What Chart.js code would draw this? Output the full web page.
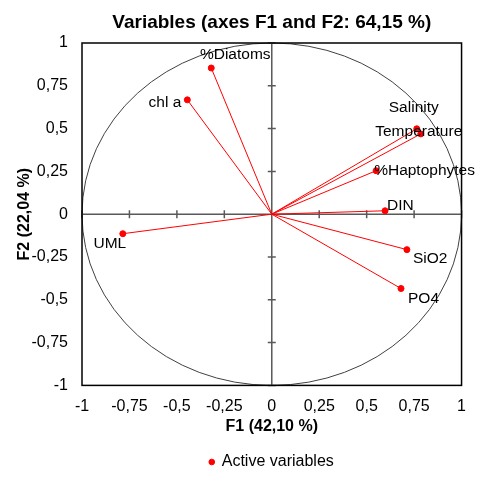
<!DOCTYPE html>
<html>
<head>
<meta charset="utf-8">
<script src="https://cdn.jsdelivr.net/npm/chart.js@4/dist/chart.umd.min.js"></script>
<style>
  html, body { margin: 0; padding: 0; background: #fff; }
  #wrap { width: 478px; height: 480px; }
</style>
</head>
<body>
<div id="wrap"><canvas id="pca"></canvas></div>
<script>
  // variable loadings on F1 / F2
  const VARIABLES = ["%Diatoms", "chl a", "Salinity", "Temperature", "%Haptophytes", "DIN", "SiO2", "PO4", "UML"];
  const F1 = [-0.319, -0.445, 0.764, 0.785, 0.55, 0.597, 0.712, 0.681, -0.785];
  const F2 = [0.854, 0.668, 0.499, 0.469, 0.254, 0.02, -0.207, -0.434, -0.114];

  const X_TICKS = [-1, -0.75, -0.5, -0.25, 0, 0.25, 0.5, 0.75, 1];
  const Y_TICKS = [-1, -0.75, -0.5, -0.25, 0, 0.25, 0.5, 0.75, 1];

  // label placement relative to each point: [dx, dy, align]
  const LABEL_POS = {
    "%Diatoms": [24, -13, "center"],
    "chl a": [-6, 3, "right"],
    "Salinity": [-3, -21, "center"],
    "Temperature": [-2, -2, "center"],
    "%Haptophytes": [-2, 0, "left"],
    "DIN": [2, -5, "left"],
    "SiO2": [6, 9, "left"],
    "PO4": [7, 10, "left"],
    "UML": [-13, 10, "center"],
  };

  const FONT = "'Liberation Sans', Arial, sans-serif";
  const RED = "#ff0000";
  const fmt = (v) => String(v).replace(".", ",");

  const points = VARIABLES.map((name, i) => ({ x: F1[i], y: F2[i] }));

  // one segment from the origin per variable
  const vectors = points.map((p) => ({
    label: "",
    data: [{ x: 0, y: 0 }, p],
    showLine: true,
    borderColor: RED,
    borderWidth: 1,
    pointRadius: 0,
    pointHoverRadius: 0,
  }));

  const frame = {
    id: "frame",
    beforeDatasetsDraw(chart) {
      const { ctx, chartArea: a, scales: { x, y } } = chart;
      const cx = x.getPixelForValue(0);
      const cy = y.getPixelForValue(0);
      ctx.save();

      // correlation circle
      ctx.strokeStyle = "#404040";
      ctx.lineWidth = 1;
      ctx.beginPath();
      ctx.ellipse(cx, cy, x.getPixelForValue(1) - cx, cy - y.getPixelForValue(1), 0, 0, Math.PI * 2);
      ctx.stroke();

      // zero axes with crossing tick marks
      ctx.strokeStyle = "#595959";
      ctx.lineWidth = 1.5;
      ctx.beginPath();
      ctx.moveTo(a.left, cy);
      ctx.lineTo(a.right, cy);
      ctx.moveTo(cx, a.top);
      ctx.lineTo(cx, a.bottom);
      X_TICKS.forEach((v) => {
        const px = x.getPixelForValue(v);
        ctx.moveTo(px, cy - 4);
        ctx.lineTo(px, cy + 4);
      });
      Y_TICKS.forEach((v) => {
        const py = y.getPixelForValue(v);
        ctx.moveTo(cx - 4, py);
        ctx.lineTo(cx + 4, py);
      });
      ctx.stroke();

      ctx.strokeStyle = "#000";
      ctx.lineWidth = 1.5;
      ctx.strokeRect(a.left, a.top, a.right - a.left, a.bottom - a.top);
      ctx.restore();
    },
    afterDatasetsDraw(chart) {
      const { ctx } = chart;
      const meta = chart.getDatasetMeta(chart.data.datasets.length - 1);
      ctx.save();
      ctx.font = "15.5px " + FONT;
      ctx.fillStyle = "#000";
      ctx.textBaseline = "middle";
      VARIABLES.forEach((name, i) => {
        const el = meta.data[i];
        const [dx, dy, align] = LABEL_POS[name];
        ctx.textAlign = align;
        ctx.fillText(name, el.x + dx, el.y + dy);
      });
      ctx.restore();
    },
  };

  new Chart(document.getElementById("pca"), {
    type: "scatter",
    data: {
      datasets: [
        ...vectors,
        {
          label: "Active variables",
          data: points,
          backgroundColor: RED,
          borderColor: RED,
          pointRadius: 3,
          pointHoverRadius: 3,
        },
      ],
    },
    options: {
      responsive: true,
      maintainAspectRatio: false,
      animation: false,
      events: [],
      layout: { padding: { right: 14 } },
      plugins: {
        title: {
          display: true,
          fullSize: false,
          text: "Variables (axes F1 and F2: 64,15 %)",
          color: "#000",
          font: { family: FONT, size: 19, weight: "bold" },
          padding: { top: 11.6, bottom: 8.6 },
        },
        legend: {
          position: "bottom",
          fullSize: false,
          labels: {
            filter: (item) => item.text !== "",
            usePointStyle: true,
            pointStyle: "circle",
            boxWidth: 4,
            boxHeight: 4,
            padding: 5.4,
            color: "#000",
            font: { family: FONT, size: 16 },
          },
        },
        tooltip: { enabled: false },
      },
      scales: {
        x: {
          type: "linear",
          min: -1,
          max: 1,
          afterBuildTicks: (s) => { s.ticks = X_TICKS.map((v) => ({ value: v })); },
          afterFit: (s) => { s.height = 63.2; },
          grid: { display: false, drawTicks: false },
          border: { display: false },
          ticks: {
            padding: 12,
            color: "#000",
            font: { family: FONT, size: 16 },
            callback: (v) => fmt(v),
          },
          title: {
            display: true,
            text: "F1 (42,10 %)",
            color: "#000",
            font: { family: FONT, size: 16, weight: "bold" },
            padding: { top: 0, bottom: 12.6 },
          },
        },
        y: {
          type: "linear",
          min: -1,
          max: 1,
          afterBuildTicks: (s) => { s.ticks = Y_TICKS.map((v) => ({ value: v })); },
          afterFit: (s) => { s.width = 82; },
          grid: { display: false, drawTicks: false },
          border: { display: false },
          ticks: {
            padding: 14,
            color: "#000",
            font: { family: FONT, size: 16 },
            callback: (v) => fmt(v),
          },
          title: {
            display: true,
            text: "F2 (22,04 %)",
            color: "#000",
            font: { family: FONT, size: 16, weight: "bold" },
            padding: { top: 15, bottom: 0 },
          },
        },
      },
    },
    plugins: [frame],
  });
</script>
</body>
</html>
